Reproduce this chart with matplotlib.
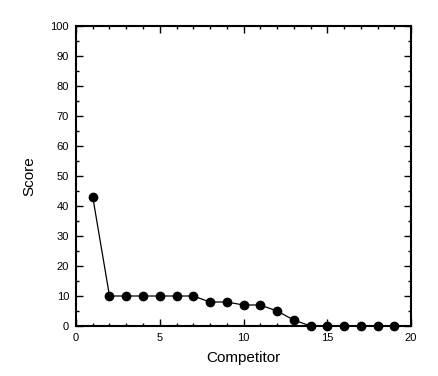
import matplotlib
matplotlib.use("Agg")
import matplotlib.pyplot as plt
from matplotlib.ticker import MultipleLocator

plt.rcParams['font.family'] = ['Liberation Sans', 'DejaVu Sans']

competitors = list(range(1, 20))
scores = [43, 10, 10, 10, 10, 10, 10, 8, 8, 7, 7, 5, 2, 0, 0, 0, 0, 0, 0]

fig = plt.figure(figsize=(4.39, 3.76), dpi=100)
ax = fig.add_axes([76/439, 1-326/376, (411-76)/439, 300/376])
ax.plot(competitors, scores, color='black', lw=0.9, marker='o', ms=6,
        markerfacecolor='black', markeredgecolor='black', clip_on=False, zorder=3)
ax.set_xlim(0, 20)
ax.set_ylim(0, 100)
ax.xaxis.set_major_locator(MultipleLocator(5))
ax.xaxis.set_minor_locator(MultipleLocator(1))
ax.yaxis.set_major_locator(MultipleLocator(10))
ax.yaxis.set_minor_locator(MultipleLocator(5))
ax.tick_params(which='both', direction='in', top=True, right=True, labelsize=8, width=1)
ax.tick_params(which='major', length=5, pad=5)
ax.tick_params(which='minor', length=2.5)
for s in ax.spines.values():
    s.set_linewidth(1.5)
ax.set_xlabel('Competitor', fontsize=11, labelpad=6)
ax.set_ylabel('Score', fontsize=11, labelpad=10)
fig.savefig('out.png', dpi=100)
